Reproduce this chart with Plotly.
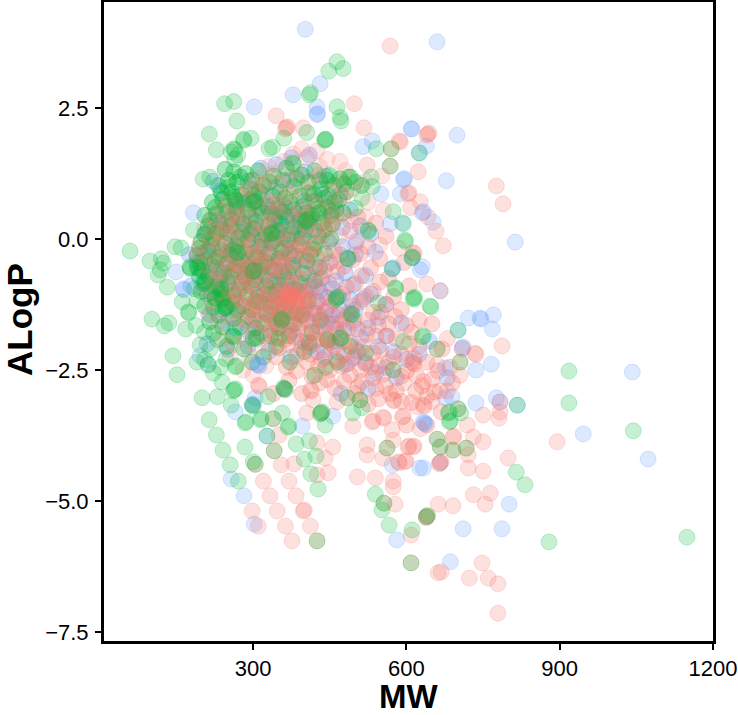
import plotly.graph_objects as go

green_points = [
(59,-0.23),(98,-0.42),(120,-0.38),(124,-0.46),(114,-0.69),(118,-0.59),(132,-0.92),(147,-0.15),(159,-0.17),(102,-1.53),(135,-1.60),(126,-1.66),(143,-2.23),(151,-2.59),
(177,-0.55),(178,-0.57),(176,-0.53),(161,-1.20),(173,-1.39),(174,-1.41),(210,0.13),(183,0.17),(214,2.0),(228,1.70),(257,1.66),(270,1.60),(264,1.52),(215,1.18),(202,1.14),
(244,2.58),(262,2.62),(268,2.25),(281,1.90),(282,1.88),(296,1.92),(331,1.72),(338,1.75),(412,2.79),(410,2.75),(448,3.20),(476,3.25),(464,3.38),(464,2.52),(470,2.32),(472,2.25),(405,2.03),(441,1.90),(377,1.45),(379,1.43),
(541,1.72),(570,1.72),(568,1.39),(531,1.18),(533,1.00),(574,0.52),(594,0.29),(597,-0.02),(598,-0.05),(525,0.17),(526,0.15),(513,0.78),(500,0.59),(486,-0.38),(484,-0.36),(625,1.64),(611,-0.36),(612,-0.34),(572,-0.57),(578,-0.93),(579,-0.95),(613,-1.13),(615,-1.15),(616,-1.11),(462,-1.13),(463,-1.15),(465,-1.11),(545,-1.22),(646,-1.28),(648,-1.30),(594,-1.96),(631,-1.87),(633,-1.85),(660,-2.10),(574,-2.50),(705,-2.35),(701,-1.74),
(228,-3.74),(214,-3.45),(200,-3.03),(230,-3.01),(241,-4.03),(255,-4.31),(271,-4.62),(284,-3.97),(300,-4.25),(304,-4.30),(341,-4.04),(384,-3.91),(410,-3.85),(400,-4.20),(423,-4.14),(413,-4.48),(427,-4.77),(425,-5.76),(441,-3.55),(433,-3.32),(435,-3.30),(431,-3.34),(361,-2.86),(363,-2.88),(359,-2.84),(263,-2.88),(265,-2.86),(261,-2.90),
(212,-2.40),(222,-2.56),(239,-2.73),(247,-2.29),(265,-2.44),(267,-2.42),(257,-3.17),(284,-3.51),(286,-3.49),(314,-3.45),(316,-3.43),(298,-3.17),(300,-3.19),(329,-3.01),(327,-3.76),(357,-3.32),(368,-3.59),(370,-3.57),(339,-3.43),(484,-3.03),(509,-3.07),(513,-3.22),(495,-3.32),(562,-3.99),
(539,-4.87),(556,-5.04),(552,-5.17),(566,-5.46),(611,-5.55),(609,-6.18),(639,-5.30),(641,-5.28),(660,-3.82),(666,-3.97),(691,-4.03),(717,-3.99),(682,-3.32),(684,-3.30),(684,-3.49),(686,-3.47),(701,-3.24),(706,-3.32),(817,-3.17),(918,-2.52),(918,-3.13),(1044,-3.66),(815,-4.45),(832,-4.69),(879,-5.78),(1149,-5.69),
(185,-0.95),(190,-1.18),(188,-1.65),(205,-1.78),(168,-1.72),(196,-2.02),(216,-2.10),(230,-1.92),(205,-2.30),(190,-2.35),(236,-2.45),
]

green_spots = [
(262,1.72),(264,1.70),(440,1.88),(442,1.90),(360,1.92),(448,1.20),(450,1.22),(486,1.18),(265,0.75),(267,0.73),(300,0.70),(302,0.72),(402,0.35),(404,0.33),(406,0.37),
(428,0.50),(430,0.48),(190,-0.55),(192,-0.53),(245,-1.30),(247,-1.32),(249,-1.28),(268,-0.25),(270,-0.27),(300,-0.62),(302,-0.60),(335,0.10),(337,0.12),(235,-0.95),(237,-0.97),
(205,-0.82),(207,-0.80),(305,-1.88),(307,-1.90),(355,-1.55),(357,-1.53),(470,-1.90),(472,-1.88),(492,-1.45),(494,-1.43),(350,-1.90),
]

green_core = [
(245,1.33),(262,1.28),(285,1.25),(310,1.30),(340,1.20),(365,1.35),(395,1.22),(420,1.30),(445,1.12),(470,1.15),(490,1.18),(500,1.08),(512,1.02),
(232,1.02),(250,0.98),(268,1.08),(295,0.95),(320,1.02),(352,0.90),(380,1.00),(410,0.88),(432,0.95),(448,0.82),(468,0.75),(482,0.90),
(220,0.70),(240,0.75),(262,0.80),(282,0.68),(305,0.72),(328,0.62),(350,0.58),(372,0.70),(398,0.62),(420,0.72),(445,0.60),(462,0.55),(476,0.50),
(205,0.45),(228,0.48),(250,0.52),(270,0.42),(295,0.40),(318,0.50),(342,0.35),(365,0.42),(392,0.35),(415,0.45),(435,0.30),(455,0.28),
(212,0.25),(238,0.18),(256,0.25),(278,0.12),(302,0.20),(325,0.08),(348,0.15),(375,0.10),(402,0.18),(428,0.05),(452,0.00),
(198,-0.05),(222,0.02),(245,-0.08),(268,-0.12),(290,-0.02),(315,-0.15),(338,-0.05),(362,-0.18),(390,-0.12),(418,-0.20),(440,-0.28),
(190,-0.32),(212,-0.22),(232,-0.35),(255,-0.30),(278,-0.42),(300,-0.28),(325,-0.45),(350,-0.38),(378,-0.50),(405,-0.42),(430,-0.55),
(200,-0.60),(218,-0.50),(242,-0.65),(262,-0.58),(285,-0.70),(310,-0.62),(332,-0.80),(360,-0.72),(392,-0.85),(420,-0.80),
(205,-0.85),(228,-0.92),(250,-0.85),(272,-0.98),(295,-0.90),(322,-1.05),(345,-1.00),(375,-1.10),(408,-1.18),
(225,-1.12),(226,-1.14),(240,-1.15),(242,-1.13),(258,-1.22),(280,-1.28),(305,-1.18),(335,-1.30),(362,-1.35),(395,-1.45),(432,-1.55),
(232,-1.45),(262,-1.52),(290,-1.48),(320,-1.60),(350,-1.70),(380,-1.62),(415,-1.78),(445,-1.92),(446,-1.94),(490,-2.05),(520,-2.18),
(260,-1.85),(262,-1.87),(300,-1.90),(345,-2.05),(400,-2.15),(465,-2.35),(298,-2.35),(420,-2.60),
(252,1.12),(275,1.18),(298,1.12),(332,1.08),(358,1.12),(385,1.15),(408,1.08),(430,1.12),(458,1.02),(478,1.05),
(238,0.88),(258,0.90),(278,0.85),(302,0.82),(312,0.90),(338,0.82),(362,0.78),(392,0.82),(418,0.85),(440,0.78),(460,0.70),
(226,0.60),(246,0.62),(268,0.60),(290,0.55),(312,0.60),(335,0.48),(358,0.52),(380,0.55),(405,0.50),(428,0.58),(452,0.45),
(215,0.35),(235,0.30),(258,0.38),(280,0.28),(305,0.32),(330,0.25),(355,0.28),(380,0.22),(410,0.30),(440,0.18),
(205,0.08),(228,0.10),(250,0.12),(272,0.02),(295,0.10),(318,-0.02),(345,0.02),(368,-0.02),(395,0.02),(422,-0.08),
(195,-0.18),(218,-0.12),(238,-0.22),(260,-0.20),(285,-0.25),(308,-0.35),(332,-0.28),(355,-0.25),(382,-0.32),(412,-0.30),
(196,-0.45),(205,-0.42),(225,-0.42),(248,-0.48),(270,-0.50),(292,-0.55),(318,-0.52),(342,-0.60),(368,-0.62),(398,-0.65),
(195,-0.72),(212,-0.72),(235,-0.75),(255,-0.72),(278,-0.82),(302,-0.78),(325,-0.90),(352,-0.88),(382,-0.95),
(198,-1.00),(218,-1.02),(238,-1.05),(262,-1.08),(288,-1.08),(312,-1.20),(340,-1.18),(368,-1.22),
(205,-1.28),(222,-1.30),(245,-1.32),(268,-1.38),(298,-1.35),(328,-1.45),(352,-1.50),(385,-1.42),
(215,-1.58),(240,-1.68),(275,-1.68),(305,-1.70),(335,-1.85),(370,-1.85),(410,-1.98),
(222,-1.80),(248,-2.05),(282,-2.10),(320,-2.25),(372,-2.35),(442,-2.45),
]

red_points = [
(568,3.68),(345,2.35),(365,2.12),(367,2.14),(363,2.10),(398,2.12),(498,2.58),(517,2.12),(586,1.87),(588,1.85),(642,2.00),(644,2.02),(640,1.98),(623,1.28),(776,1.01),(789,0.67),(523,1.41),(570,1.72),(568,1.39),(603,0.86),(605,0.88),(627,0.71),(608,0.60),(642,0.42),(658,0.15),(672,-0.13),(613,-0.26),(615,-0.28),(640,-0.86),(666,-0.99),(660,-2.10),(787,-2.04),(734,-2.18),(736,-2.20),(705,-2.35),(709,-2.10),
(355,-4.31),(320,-4.62),(333,-4.90),(347,-5.19),(363,-5.48),(376,-5.76),(370,-4.62),(384,-4.90),(398,-5.19),(400,-5.17),(412,-5.48),(425,-5.76),(304,-4.30),(341,-4.04),(298,-5.19),(310,-5.48),(425,-4.50),(447,-4.46),(441,-4.18),(456,-3.97),(425,-3.89),(380,-4.29),(351,-3.74),(433,-3.32),(361,-2.86),(310,-2.79),(312,-2.81),(339,-3.43),(412,-2.88),(414,-2.90),(417,-3.07),(405,-3.32),(464,-3.11),(484,-3.03),(509,-3.07),(495,-3.57),(533,-3.49),(535,-3.47),(523,-3.93),(523,-4.12),(554,-4.18),(562,-3.99),(574,-3.84),(603,-3.97),(605,-3.95),(584,-4.25),(586,-4.27),(504,-4.54),(539,-4.56),(574,-4.62),(574,-4.73),(556,-5.04),(578,-5.06),(609,-5.65),(609,-6.18),(639,-5.30),(641,-5.28),(574,-2.50),(574,-3.07),(576,-3.09),(592,-3.40),(594,-3.38),(554,-3.40),(556,-3.42),(572,-3.64),(621,-3.20),
(799,-4.18),(895,-3.87),(764,-4.85),(731,-4.88),(754,-5.06),(662,-5.06),(691,-5.09),(639,-5.32),(748,-6.18),(668,-6.35),(662,-6.37),(723,-6.47),(760,-6.47),(779,-6.58),(779,-7.14),(666,-4.27),(668,-4.25),(664,-4.29),(721,-4.37),(750,-4.43),(691,-4.03),(717,-3.99),(660,-3.82),(666,-3.97),(750,-3.36),(781,-3.42),(783,-3.30),(719,-3.55),(750,-3.87),(731,-3.78),(691,-3.78),(693,-3.76),(721,-4.12),(633,-3.17),(635,-3.19),(613,-3.97),(615,-3.95),(597,-4.25),(599,-4.23),(783,-3.11),(701,-3.24),(613,-2.37),(615,-2.39),(611,-2.35),(633,-2.72),(666,-2.90),(680,-2.90),(627,-3.62),(650,-3.10),(595,-2.75),(660,-2.40),(680,-1.90),(705,-2.60),
]

red_core = [
(290,0.95),(320,1.05),(345,0.72),(372,0.85),(395,0.55),(420,0.72),(450,0.65),(475,0.80),(505,0.42),(540,0.30),(560,0.05),(525,-0.15),(490,0.15),(455,0.30),(270,0.45),(248,0.30),(232,0.15),(215,-0.02),(260,0.08),(295,0.20),(330,0.30),(362,0.15),(405,0.25),(435,0.05),
(190,-0.30),(228,-0.40),(255,-0.25),(282,-0.15),(310,-0.30),(340,-0.05),(368,-0.25),(395,-0.10),(425,-0.35),(458,-0.22),(495,-0.40),(530,-0.55),(565,-0.75),(595,-0.45),
(222,-0.80),(250,-0.65),(278,-0.55),(305,-0.70),(330,-0.60),(352,-0.50),(378,-0.65),(402,-0.55),(432,-0.75),(465,-0.62),(500,-0.85),(535,-1.00),(575,-1.10),(605,-0.90),
(262,-1.00),(285,-0.88),(310,-1.05),(330,-0.95),(345,-1.10),(358,-0.95),(368,-1.05),(372,-1.07),(375,-1.12),(380,-1.02),(385,-1.10),(392,-1.00),(400,-1.15),(412,-0.98),(440,-1.10),(475,-1.05),(510,-1.20),(550,-1.40),(590,-1.35),(625,-1.55),
(280,-1.22),(300,-1.30),(322,-1.20),(345,-1.30),(360,-1.22),(365,-1.18),(372,-1.28),(382,-1.20),(392,-1.32),(405,-1.25),(420,-1.35),(450,-1.28),(485,-1.42),(525,-1.55),(565,-1.62),(610,-1.78),(650,-1.62),
(305,-1.50),(328,-1.42),(345,-1.55),(362,-1.48),(378,-1.55),(395,-1.45),(412,-1.58),(432,-1.50),(455,-1.62),(475,-1.55),(505,-1.72),(540,-1.85),(580,-1.90),(625,-2.05),(670,-2.10),
(335,-1.75),(352,-1.68),(370,-1.80),(388,-1.72),(405,-1.85),(425,-1.78),(445,-1.90),(468,-1.82),(490,-1.98),(515,-2.05),(550,-2.12),(590,-2.20),(640,-2.35),(685,-2.45),
(368,-2.02),(395,-2.08),(418,-2.00),(440,-2.12),(458,-2.05),(478,-2.20),(498,-2.25),(520,-2.38),(545,-2.42),(565,-2.35),(600,-2.52),(620,-2.60),(650,-2.68),(690,-2.75),
(405,-2.35),(428,-2.42),(450,-2.50),(472,-2.42),(490,-2.60),(512,-2.72),(535,-2.65),(558,-2.80),(580,-2.90),(618,-2.90),(640,-3.00),(668,-3.30),
(385,-2.52),(430,-2.75),(460,-2.85),(500,-2.95),(525,-3.15),(545,-3.05),(590,-3.10),(600,-3.55),(640,-3.55),(370,-2.70),(340,-2.95),(395,-2.95),
(298,-0.30),(318,-0.45),(338,-0.35),(358,-0.38),(380,-0.42),(400,-0.32),(422,-0.58),(445,-0.48),(478,-0.52),(512,-0.70),(548,-0.82),
(282,-0.72),(298,-0.85),(318,-0.80),(340,-0.78),(362,-0.72),(375,-0.85),(395,-0.78),(418,-0.88),(448,-0.85),(482,-0.92),(520,-1.10),(560,-1.25),
(290,-1.10),(305,-1.18),(325,-1.08),(338,-1.22),(350,-1.05),(355,-1.15),(362,-1.10),(366,-1.00),(370,-1.14),(378,-1.08),(388,-1.18),(396,-1.06),(408,-1.12),(425,-1.18),(458,-1.18),(495,-1.28),(535,-1.40),(578,-1.48),
(292,-1.40),(312,-1.38),(335,-1.35),(352,-1.42),(368,-1.38),(385,-1.38),(402,-1.42),(425,-1.42),(442,-1.38),(468,-1.45),(498,-1.55),(545,-1.65),(600,-1.65),
(318,-1.62),(338,-1.60),(355,-1.58),(372,-1.65),(392,-1.60),(415,-1.70),(440,-1.65),(462,-1.72),(485,-1.70),(522,-1.82),(562,-1.85),(605,-2.00),
(345,-1.88),(362,-1.92),(382,-1.88),(402,-1.98),(425,-1.92),(452,-1.98),(478,-1.95),(502,-2.12),(535,-2.18),(575,-2.25),(615,-2.28),(662,-2.52),
(385,-2.22),(412,-2.20),(435,-2.30),(462,-2.30),(485,-2.38),(510,-2.50),(530,-2.45),(555,-2.58),(590,-2.62),(630,-2.80),
(345,-2.25),(365,-2.45),(415,-2.62),(445,-2.68),(478,-2.72),(505,-2.82),(540,-2.85),(568,-2.95),(610,-3.12),(655,-2.92),
(300,-0.60),(320,-0.22),(345,-0.58),(362,-0.48),(385,-0.20),(412,-0.18),(440,-0.60),(470,-0.30),(510,-0.28),(548,-0.38),
(240,-0.15),(268,-0.48),(275,-0.85),(295,-0.52),(250,-1.15),(268,-1.25),(285,-1.55),(300,-1.72),(322,-1.85),(350,-2.08),
]

red_upper = [
(312,0.60),(340,0.50),(375,0.45),(410,0.48),(440,0.35),(478,0.45),(515,0.15),(548,-0.12),(585,-0.18),(470,1.05),(495,0.95),(525,0.70),(555,0.55),(340,1.25),(385,1.30),(430,1.38),(480,1.30),(520,1.10),(552,1.20),
(250,0.72),(266,0.58),(280,0.82),(298,0.66),(315,0.85),(330,0.72),(352,1.05),(372,1.18),(398,0.92),(412,1.10),(428,1.22),(452,0.98),(405,1.55),(425,1.68),(445,1.52),(470,1.48),(395,1.72),(378,1.62),(360,1.48),(330,1.38),(305,1.15),
(222,0.42),(238,0.55),(252,0.40),(268,0.28),(285,0.50),(302,0.35),(320,0.22),(335,0.42),(350,0.62),(368,0.58),(385,0.35),(402,0.42),(418,0.30),(432,0.50),(462,0.42),(490,0.35),(520,0.42),
(205,0.22),(224,0.22),(242,0.08),(262,0.22),(278,-0.02),(296,-0.10),(312,0.08),(328,0.12),(352,0.05),(372,-0.05),(388,0.12),(408,0.02),(425,0.15),(445,0.18),(470,0.05),(500,-0.12),
(195,-0.12),(212,-0.28),(230,-0.08),(246,-0.38),(262,-0.42),(280,-0.32),(298,-0.05),(322,-0.12),(350,-0.15),(378,-0.15),(408,-0.28),(435,-0.18),(462,-0.42),
(200,-0.50),(215,-0.62),(235,-0.62),(252,-0.50),(268,-0.70),(288,-0.55),(312,-0.50),(335,-0.48),(205,-0.98),(220,-1.20),(238,-0.88),(252,-0.98),(270,-1.12),(212,-1.42),(232,-1.58),(252,-1.48),(270,-1.58),(225,-0.72),
(238,-1.90),(262,-2.02),(285,-1.92),(310,-2.05),(330,-2.00),(292,-2.22),(255,-2.25),(280,-2.50),(300,-2.60),(325,-2.42),
]

blue_points = [
(402,4.00),(660,3.76),(378,2.75),(431,2.96),(425,2.37),(426,2.39),(425,2.52),(302,2.52),(611,2.10),(609,2.10),(699,1.98),(639,1.77),(625,1.64),(678,1.11),(533,1.87),(515,1.76),(594,1.13),(596,1.15),(588,0.86),(550,0.86),(568,0.29),(592,0.31),(631,0.50),(633,0.52),(652,0.32),(813,-0.06),(631,-0.53),(627,-0.59),(666,-0.99),(539,-0.25),(486,-0.38),(572,-0.57),(574,-0.55),(611,-0.36),
(721,-1.51),(744,-1.51),(746,-1.53),(770,-1.45),(768,-1.72),(701,-1.74),(709,-2.08),(711,-2.06),(766,-2.39),(736,-2.50),(676,-2.46),(1042,-2.54),(776,-3.03),(736,-3.13),(783,-3.11),(689,-3.01),(676,-3.03),(635,-3.51),(637,-3.53),(633,-3.49),(946,-3.72),(1073,-4.20),(633,-4.37),(666,-4.27),(801,-5.06),(711,-5.53),(787,-5.53),(686,-6.16),(581,-5.74),(626,-4.37),(572,-4.31),
(183,0.50),(149,-0.63),(163,-0.95),(165,-0.97),(196,-2.23),(212,-2.40),(282,-4.90),(257,-4.58),(302,-5.44),(327,-3.76),(396,-3.57),(456,-3.38),(298,-3.17),(300,-3.15),(304,-3.03),(265,-3.30),(310,-2.40),(312,-2.42),(308,-2.38),(361,-2.86),(817,-3.17),
]

blue_core = [
(222,1.10),(236,0.92),(265,0.55),(290,1.10),(315,1.35),(345,1.42),(375,1.55),(410,1.60),(440,1.20),(470,0.85),(490,0.55),(510,0.25),(530,0.10),
(205,0.10),(230,0.35),(255,0.05),(280,0.30),(305,0.45),(330,0.55),(350,0.30),(375,0.42),(398,0.05),(420,0.18),(448,-0.05),(475,-0.15),(500,-0.30),
(175,-0.30),(195,-0.60),(220,-0.20),(240,-0.55),(265,-0.35),(290,-0.40),(310,-0.15),(330,-0.25),(350,-0.45),(372,-0.30),(395,-0.40),(420,-0.52),(450,-0.45),(480,-0.65),(520,-0.70),
(178,-0.90),(210,-1.05),(235,-0.85),(260,-1.00),(285,-0.75),(305,-0.85),(325,-0.72),(345,-0.85),(365,-0.78),(385,-0.82),(410,-0.90),(430,-1.00),(455,-0.95),(490,-1.15),(530,-1.05),(560,-1.25),
(215,-1.45),(245,-1.60),(270,-1.35),(300,-1.55),(325,-1.40),(350,-1.25),(375,-1.40),(400,-1.35),(425,-1.20),(440,-1.40),(470,-1.35),(495,-1.60),(525,-1.70),(560,-1.85),(590,-1.60),
(210,-2.00),(250,-2.10),(290,-2.05),(330,-2.15),(375,-2.25),(410,-2.05),(440,-2.25),(460,-1.95),(480,-2.40),(505,-2.15),(540,-2.55),(600,-2.30),(625,-2.20),(645,-1.95),(680,-2.65),(525,-2.85),(580,-2.65),(472,-2.95),
(340,0.65),(352,0.42),(362,0.62),(375,0.25),(388,0.48),(400,0.72),(345,0.18),(358,0.02),(372,-0.10),(390,0.18),(412,0.38),(335,-0.08),(318,0.18),(300,0.02),(285,0.15),(268,-0.15),(250,-0.25),(228,-0.55),(205,-0.25),(190,-0.45),(200,-0.85),
(215,-0.72),(232,-1.05),(250,-0.80),(272,-0.62),(295,-0.58),(315,-0.48),(335,-0.55),(355,-0.62),(378,-0.55),(408,-0.68),(435,-0.75),(462,-0.80),(495,-0.88),
(310,-1.10),(335,-1.05),(355,-0.98),(378,-0.98),(402,-1.02),(425,-0.92),(445,-1.12),(468,-1.10),(500,-1.35),(515,-1.15),(545,-1.50),(405,-1.55),(430,-1.68),(455,-1.45),(478,-1.75),(510,-1.88),(545,-2.05),(575,-2.15),
(420,-1.42),(445,-1.60),(462,-1.62),(490,-1.42),(240,-1.35),(265,-1.70),(290,-1.75),(315,-1.80),(345,-1.62),(375,-1.75),(395,-1.95),(425,-2.15),(465,-2.15),(495,-2.28),(520,-2.35),(560,-2.45),
(248,0.30),(272,0.72),(295,0.75),(318,0.85),(345,0.98),(372,1.12),(402,1.28),(435,0.85),(455,0.52),(475,0.22),(502,-0.05),
]

COLORS = {"red": "248,118,109", "green": "0,186,56", "blue": "97,156,255"}
series = [("blue", blue_core, 0.3), ("green", green_core, 0.34), ("red", red_upper, 0.18), ("red", red_core, 0.28),
          ("blue", blue_points, 0.22), ("red", red_points, 0.22), ("green", green_points + green_spots, 0.22)]

y_ticks = [2.5, 0, -2.5, -5, -7.5]
y_labels = ["2.5", "0.0", "−2.5", "−5.0", "−7.5"]
x_ticks = [300, 600, 900, 1200]

fig = go.Figure()
for name, pts, alpha in series:
    c = COLORS[name]
    fig.add_trace(go.Scatter(
        x=[p[0] for p in pts], y=[p[1] for p in pts], mode="markers", name=name,
        showlegend=False, cliponaxis=True,
        marker=dict(size=16, color=f"rgba({c},{alpha})", line=dict(width=1, color=f"rgba({c},{alpha})")),
    ))

FONT = "Liberation Sans, Arial, sans-serif"
axis = dict(showgrid=False, zeroline=False, showline=True, mirror=True, linecolor="black", linewidth=3,
            ticks="outside", ticklen=6, tickwidth=1.5, tickcolor="black",
            tickfont=dict(family=FONT, size=22, color="black"))
fig.update_layout(
    width=738, height=715, margin=dict(l=104, r=25, t=2, b=74, autoexpand=False),
    plot_bgcolor="white", paper_bgcolor="white",
    xaxis=dict(range=[8, 1200], tickvals=x_ticks, **axis),
    yaxis=dict(range=[-7.67, 4.52], tickvals=y_ticks, ticktext=y_labels, ticklabelstandoff=2, **axis),
    annotations=[
        dict(text="<b>MW</b>", xref="paper", yref="paper", x=0.5, y=0, xanchor="center", yanchor="top",
             yshift=-36, borderpad=0, showarrow=False, font=dict(family=FONT, size=33, color="black")),
        dict(text="<b>ALogP</b>", xref="paper", yref="paper", x=0, y=0.5, xanchor="left", yanchor="middle",
             xshift=-105, yshift=2, borderpad=0, textangle=-90, showarrow=False, font=dict(family=FONT, size=35, color="black")),
    ],
)
fig.write_html("out.html", config={"displayModeBar": False}, post_script="document.body.style.margin='0';document.documentElement.style.overflow='hidden';")
